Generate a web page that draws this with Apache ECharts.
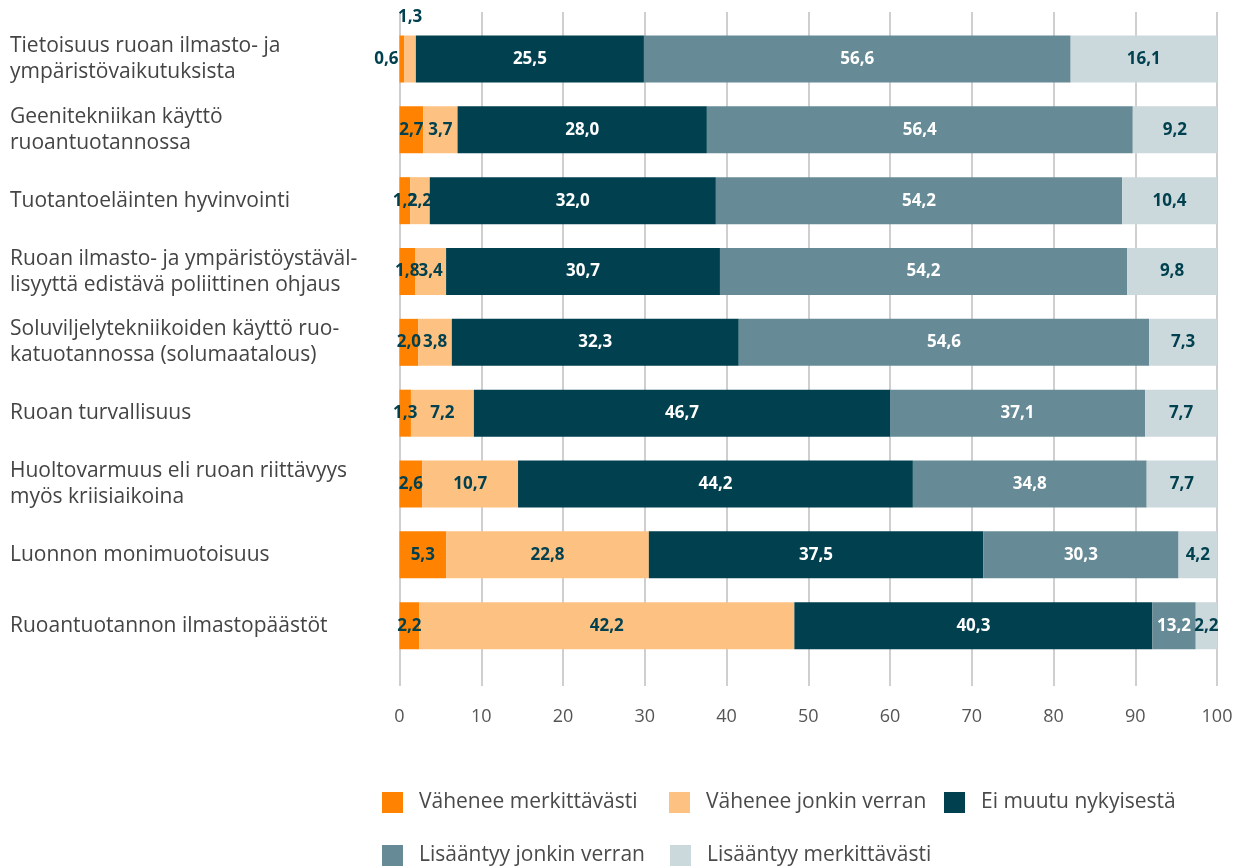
<!DOCTYPE html>
<html>
<head>
<meta charset="utf-8">
<script src="https://cdn.jsdelivr.net/npm/echarts@6/dist/echarts.min.js"></script>
<style>
  html, body { margin: 0; padding: 0; background: #fff; }
  #chart { width: 1237px; height: 867px; }
</style>
</head>
<body>
<div id="chart"></div>
<script>
// kategoriat ylhäältä alas
const categories = [
  'Tietoisuus ruoan ilmasto- ja\nympäristövaikutuksista',
  'Geenitekniikan käyttö\nruoantuotannossa',
  'Tuotantoeläinten hyvinvointi',
  'Ruoan ilmasto- ja ympäristöystäväl-\nlisyyttä edistävä poliittinen ohjaus',
  'Soluviljelytekniikoiden käyttö ruo-\nkatuotannossa (solumaatalous)',
  'Ruoan turvallisuus',
  'Huoltovarmuus eli ruoan riittävyys\nmyös kriisiaikoina',
  'Luonnon monimuotoisuus',
  'Ruoantuotannon ilmastopäästöt'
]
const seriesNames = [
  'Vähenee merkittävästi',
  'Vähenee jonkin verran',
  'Ei muutu nykyisestä',
  'Lisääntyy jonkin verran',
  'Lisääntyy merkittävästi'
]

// palkkien päälle kirjoitetut prosentit
const vaheneeMerk = [0.6, 2.7, 1.2, 1.8, 2.0, 1.3, 2.6, 5.3, 2.2]
const vaheneeJonkin = [1.3, 3.7, 2.2, 3.4, 3.8, 7.2, 10.7, 22.8, 42.2]
const eiMuutu = [25.5, 28.0, 32.0, 30.7, 32.3, 46.7, 44.2, 37.5, 40.3]
const lisaantyyJonkin = [56.6, 56.4, 54.2, 54.2, 54.6, 37.1, 34.8, 30.3, 13.2]
const lisaantyyMerk = [16.1, 9.2, 10.4, 9.8, 7.3, 7.7, 7.7, 4.2, 2.2]

// palkkien piirretyt pituudet (luettu kuvasta, eivät aina vastaa tekstejä)
const vaheneeMerkBar = [0.6, 2.9, 1.3, 1.9, 2.3, 1.4, 2.8, 5.7, 2.4]
const vaheneeJonkinBar = [1.4, 4.2, 2.4, 3.8, 4.1, 7.7, 11.7, 24.8, 45.9]
const eiMuutuBar = [27.9, 30.5, 35.0, 33.5, 35.1, 50.9, 48.3, 40.9, 43.8]
const lisaantyyJonkinBar = [52.2, 52.1, 49.7, 49.8, 50.2, 31.2, 28.6, 23.9, 5.3]
const lisaantyyMerkBar = [17.9, 10.3, 11.6, 11.0, 8.3, 8.8, 8.6, 4.7, 2.6]

const xTicks = [0, 10, 20, 30, 40, 50, 60, 70, 80, 90, 100]

const colors = ['#ff8200', '#fdc282', '#01414f', '#668b96', '#cbd9dd']
const labelColors = ['#01414f', '#01414f', '#ffffff', '#ffffff', '#01414f']
const labelValues = [vaheneeMerk, vaheneeJonkin, eiMuutu, lisaantyyJonkin, lisaantyyMerk]
const barValues = [vaheneeMerkBar, vaheneeJonkinBar, eiMuutuBar, lisaantyyJonkinBar, lisaantyyMerkBar]

const fmt = v => v.toFixed(1).replace('.', ',')

const chart = echarts.init(document.getElementById('chart'))

const series = barValues.map((arr, s) => ({
  name: seriesNames[s],
  type: 'bar',
  stack: 'total',
  xAxisIndex: 1,
  yAxisIndex: 1,
  barWidth: 47,
  itemStyle: { color: colors[s] },
  label: {
    show: true,
    position: 'inside',
    color: labelColors[s],
    fontFamily: 'Open Sans',
    fontWeight: 'bold',
    fontSize: 17,
    formatter: p => fmt(labelValues[s][p.dataIndex])
  },
  data: arr.map((v, i) => {
    // ensimmäisen rivin pienet arvot palkin ulkopuolelle
    if (i === 0 && s === 0) return { value: v, label: { position: 'left', distance: 1 } }
    if (i === 0 && s === 1) return { value: v, label: { position: 'top', distance: 10 } }
    return v
  })
}))

const legendText = { color: '#4a4a4a', fontSize: 21, fontFamily: 'Open Sans', padding: [0, 0, 0, 11] }
const legendPos = [[377, 787], [664, 787], [939, 787], [377, 840], [665, 840]]

chart.setOption({
  animation: false,
  grid: [
    // ruudukkoviivat
    { left: 399.5, width: 817.5, top: 12, height: 674 },
    // palkit
    { left: 399.5, width: 817.5, top: 23.6, height: 637.5 }
  ],
  legend: seriesNames.map((name, k) => ({
    data: [name],
    left: legendPos[k][0],
    top: legendPos[k][1],
    itemWidth: 21, itemHeight: 21,
    icon: 'rect',
    textStyle: legendText
  })),
  xAxis: [
    {
      gridIndex: 0,
      type: 'value',
      min: 0, max: 100, interval: 10,
      axisLine: { show: false },
      axisTick: { show: false },
      splitLine: { show: true, lineStyle: { color: '#cfcfcf', width: 2 } },
      axisLabel: {
        color: '#555', fontSize: 18, fontFamily: 'Open Sans', margin: 22,
        formatter: v => xTicks.includes(v) ? String(v) : ''
      }
    },
    {
      gridIndex: 1,
      type: 'value',
      min: 0, max: 100,
      show: false
    }
  ],
  yAxis: [
    {
      gridIndex: 0,
      type: 'value',
      min: 0, max: 1,
      show: false
    },
    {
      gridIndex: 1,
      type: 'category',
      inverse: true,
      data: categories,
      axisLine: { show: false },
      axisTick: { show: false },
      axisLabel: {
        align: 'left',
        margin: 389.5,
        color: '#444',
        fontSize: 21,
        lineHeight: 26,
        fontFamily: 'Open Sans'
      }
    }
  ],
  series: series
})
</script>
</body>
</html>
